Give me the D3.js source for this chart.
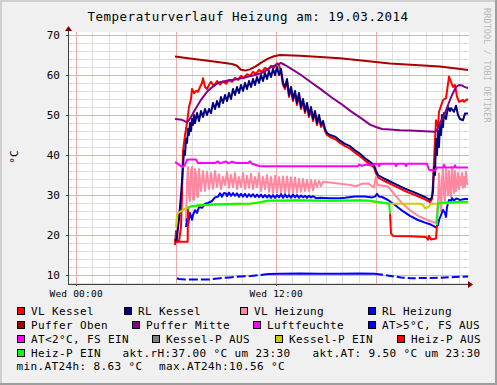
<!DOCTYPE html>
<html>
<head>
<meta charset="utf-8">
<title>Temperaturverlauf Heizung</title>
<script src="https://d3js.org/d3.v7.min.js"></script>
<style>
  body { margin: 0; background: #f0f0f0; }
  svg { display: block; font-family: "DejaVu Sans Mono", monospace; }
</style>
</head>
<body>
<div id="chart"></div>
<script>
// ---- data: [hour of day (Wed), degC] ----
var vlKessel = [[5.96,17.5],[6.02,21],[6.08,18.3],[6.20,18.5],[6.32,22],[6.38,30],[6.44,41],[6.56,45],[6.68,48],[6.80,52],[6.92,54],[6.98,56.5],[7.10,55.5],[7.22,56],[7.34,55.8],[7.46,57],[7.58,58],[7.64,59.2],[7.76,57],[7.88,56.5],[8.00,57.5],[8.12,58.3],[8.30,57.2],[8.48,58.5],[8.66,57.6],[8.84,58.4],[9.02,57.8],[9.20,58.8],[9.38,58.3],[9.56,59.3],[9.74,58.8],[9.92,59.8],[10.10,59.2],[10.28,60.2],[10.46,59.8],[10.64,60.8],[10.82,60.3],[11.00,61.3],[11.18,60.8],[11.36,61.8],[11.54,61.3],[11.72,62.3],[11.90,61.8],[12.08,62.9],[12.20,62.5],[12.32,60.8],[12.44,57.5],[12.56,56.5],[12.68,58.5],[12.80,54.5],[12.92,56.5],[13.04,53.5],[13.16,55.5],[13.28,52.5],[13.40,55],[13.52,51.5],[13.64,53.5],[13.76,50.5],[13.88,52.5],[14.00,49.5],[14.12,51.5],[14.24,48.5],[14.36,50.5],[14.48,47.5],[14.60,49.5],[14.72,47],[14.84,48],[14.96,46],[15.08,45],[15.26,44.5],[15.56,44],[15.86,43],[16.16,42.2],[16.46,41.6],[16.76,40.6],[17.06,39.7],[17.36,38.6],[17.66,37.7],[17.90,36.9],[18.02,35.4],[18.14,34.4],[18.56,33.4],[19.16,32.2],[19.76,31],[20.36,30],[20.96,28.9],[21.26,28.2],[21.38,29],[21.44,33],[21.56,43.75],[21.62,48.7],[21.74,47],[21.80,50.8],[22.04,53.75],[22.22,54.2],[22.40,59.6],[22.52,58.3],[22.64,57],[22.76,57.5],[22.88,54.6],[23.00,53.3],[23.24,53.75],[23.30,53.3],[23.48,53.9],[23.54,53.75]];

var rlKessel = [[5.96,19.0],[6.02,18.5],[6.08,19.5],[6.20,24],[6.32,30],[6.44,37],[6.50,41],[6.56,40],[6.62,44],[6.68,43],[6.74,46.5],[6.80,45],[6.86,48],[6.92,46],[6.98,49],[7.04,47.5],[7.10,50],[7.16,48],[7.28,50.5],[7.40,48.5],[7.52,51],[7.64,49.5],[7.76,51.5],[7.88,50],[8.00,51.5],[8.12,50.5],[8.24,53],[8.36,51.5],[8.48,53.5],[8.60,52],[8.72,54.5],[8.84,53],[8.96,55],[9.08,53.5],[9.20,55.5],[9.32,54],[9.44,56.5],[9.56,55],[9.68,57],[9.80,55.5],[9.92,57.5],[10.04,56],[10.16,58],[10.28,56.5],[10.40,58.5],[10.52,57],[10.64,59],[10.76,57.5],[10.88,59.5],[11.00,58],[11.12,60],[11.24,58.5],[11.36,60.5],[11.48,59],[11.60,61],[11.72,59.5],[11.84,61.5],[11.96,60],[12.08,62],[12.20,60],[12.32,61.5],[12.44,58],[12.56,57],[12.68,59],[12.80,55],[12.92,57],[13.04,54],[13.16,56],[13.28,53],[13.40,55.5],[13.52,52],[13.64,54],[13.76,51],[13.88,53],[14.00,50],[14.12,52],[14.24,49],[14.36,51],[14.48,48],[14.60,50],[14.72,47.5],[14.84,48.5],[14.96,46.5],[15.08,45.5],[15.26,45],[15.56,44.6],[15.86,43.6],[16.16,42.8],[16.46,42.2],[16.76,41.2],[17.06,40.3],[17.36,39.2],[17.66,38.3],[17.90,37.5],[18.02,36],[18.14,35],[18.56,34],[19.16,32.8],[19.76,31.6],[20.36,30.6],[20.96,29.5],[21.26,28.8],[21.38,29.5],[21.44,31],[21.50,37],[21.56,35],[21.62,44],[21.68,40],[21.74,46],[21.80,42],[21.86,48],[21.92,45],[21.98,50],[22.04,47],[22.10,50.5],[22.22,49],[22.34,52],[22.46,51],[22.52,51.7],[22.70,50.8],[22.82,52.3],[22.94,50],[23.06,49],[23.24,48.7],[23.36,50.4],[23.54,50.4]];

var vlHeizung = [[6.62,23.5],[6.68,33],[6.74,37],[6.80,30],[6.86,28.5],[6.92,36],[6.98,37],[7.04,29],[7.10,28.8],[7.16,36.5],[7.22,35],[7.28,30],[7.34,29.5],[7.40,36.5],[7.52,31],[7.64,36],[7.76,31],[7.88,35.8],[8.00,31.5],[8.12,35.5],[8.24,31.5],[8.36,36],[8.48,32],[8.60,35.2],[8.72,31.5],[8.84,34.5],[8.96,32.5],[9.08,35.8],[9.20,31.8],[9.32,35],[9.44,32],[9.56,35.5],[9.68,31.5],[9.80,34.5],[9.92,32],[10.04,35.5],[10.16,31.5],[10.28,34.8],[10.40,31.8],[10.52,35.3],[10.64,31.5],[10.76,34.5],[10.88,32],[11.00,35.5],[11.12,31],[11.24,34.5],[11.36,31.5],[11.48,35],[11.60,30.8],[11.72,34.5],[11.84,30.5],[11.96,34.8],[12.08,30.6],[12.20,34.5],[12.32,30.5],[12.44,34.6],[12.56,30.4],[12.68,34.6],[12.80,30.5],[12.92,34.4],[13.04,30.6],[13.16,34.4],[13.28,30.6],[13.40,34],[13.52,30.8],[13.64,34],[13.76,31],[13.88,33.8],[14.00,31],[14.12,33.8],[14.24,31.2],[14.36,33.6],[14.48,32],[14.60,33.5],[14.72,32.2],[14.84,33.3],[15.26,33.1],[15.86,32.8],[16.46,32.5],[16.82,32.2],[17.18,32.8],[17.54,32.9],[17.78,32.2],[17.90,31.9],[17.96,33.5],[18.02,34.6],[18.08,33],[18.14,32.5],[18.74,32.1],[19.16,30],[19.52,28.2],[20.06,26.2],[20.54,24.8],[20.96,24],[21.26,23.5],[21.62,23],[21.74,28],[21.80,35.4],[21.86,30],[21.92,26],[21.98,34],[22.04,36.5],[22.10,30],[22.16,28.5],[22.22,36.5],[22.28,33],[22.34,30],[22.40,36],[22.46,31],[22.52,29.5],[22.58,37],[22.64,33.5],[22.70,30.5],[22.76,36],[22.82,31],[22.88,33],[22.94,35.5],[23.00,31.5],[23.06,34.5],[23.12,32.5],[23.18,35.5],[23.24,31.8],[23.30,34.5],[23.36,32],[23.42,35.8],[23.48,33],[23.54,32.5]];

var rlHeizung = [[6.62,22],[6.68,24],[6.74,22.5],[6.86,25.5],[6.98,23.8],[7.04,25],[7.16,26.2],[7.28,25.5],[7.40,27],[7.58,26.8],[7.76,27.8],[7.94,28],[8.18,28.5],[8.36,29.4],[8.54,29.6],[8.66,30.4],[8.78,29.6],[8.90,30.5],[9.02,30.4],[9.08,29.7],[9.20,30.6],[9.32,29.8],[9.44,30.5],[9.56,29.8],[9.68,30.4],[9.80,29.6],[9.92,30.3],[10.04,29.6],[10.16,30.3],[10.28,29.5],[10.40,30.2],[10.52,29.6],[10.64,30.2],[10.76,29.5],[10.88,30.1],[11.00,29.5],[11.12,30.1],[11.24,29.4],[11.36,30],[11.48,29.4],[11.60,30],[11.72,29.3],[11.84,30],[11.96,29.3],[12.08,30],[12.20,29.4],[12.32,30.2],[12.44,29.3],[12.56,30.1],[12.68,29.4],[12.80,30],[12.92,29.3],[13.04,30.1],[13.16,29.4],[13.28,30],[13.40,29.3],[13.52,29.9],[13.64,29.4],[13.76,29.8],[13.88,29.3],[14.00,29.8],[14.12,29.4],[14.24,29.7],[14.42,29.2],[14.66,29.3],[15.26,29.2],[15.86,29.2],[16.16,29.3],[16.76,29.6],[17.36,29.6],[17.78,29.4],[17.96,29.6],[18.08,30.3],[18.20,29.6],[18.38,29.5],[18.74,28.75],[19.16,27.5],[19.52,26.3],[20.06,24.8],[20.54,23.75],[20.96,23.1],[21.26,22.7],[21.62,21.9],[21.74,22.5],[21.80,23.75],[21.92,25],[22.04,26.25],[22.16,25.5],[22.22,24.5],[22.28,27],[22.40,28.75],[22.52,28.5],[22.58,29.2],[22.70,28.6],[22.82,29.1],[22.94,29.0],[23.06,28.7],[23.18,28.9],[23.36,29.0],[23.54,29.0]];

var pufferOben = [[5.96,64.6],[6.86,64.1],[8.06,63.5],[8.96,63.0],[9.38,62.75],[9.68,62.3],[9.92,61.3],[10.16,61.1],[10.46,61.4],[10.82,62.2],[11.18,63.2],[11.54,64.1],[11.90,64.7],[12.26,65.0],[13.46,64.8],[15.86,64.2],[18.86,62.9],[21.86,62.1],[23.54,61.25]];

var pufferMitte = [[5.96,49],[6.38,48.8],[6.62,48.3],[6.74,48.4],[6.92,49.5],[7.16,51.3],[7.52,53.8],[7.88,55.8],[8.30,57.4],[8.66,58.2],[9.14,58.6],[9.56,58.9],[10.16,59.4],[10.76,60.0],[11.24,60.6],[11.72,62],[12.08,62.6],[12.32,63],[12.56,62.5],[12.92,61.6],[13.52,60],[14.12,58.2],[14.72,56.4],[15.32,54.5],[15.92,52.8],[16.52,50.9],[17.12,49.2],[17.66,47.6],[18.02,47.0],[18.38,46.5],[18.86,46.4],[19.46,46.2],[20.06,46.1],[20.66,46.0],[21.26,45.9],[21.56,45.8],[21.74,46.7],[21.92,48.5],[22.16,50.5],[22.34,52.5],[22.58,55],[22.82,57],[23.00,57.5],[23.18,57.4],[23.30,57.1],[23.42,56.9],[23.54,56.7]];

var luftfeuchte = [[5.96,38.2],[6.14,37.8],[6.32,37.2],[6.44,37.0],[6.56,37.6],[6.68,38.8],[6.86,38.9],[7.22,38.9],[7.34,38.0],[8.36,38.0],[8.54,38.4],[8.66,37.9],[9.02,38.4],[9.14,37.9],[9.38,38.3],[9.62,38.0],[10.34,38.0],[10.46,38.4],[10.58,37.8],[11.06,37.2],[16.94,37.2],[17.00,37.6],[17.18,37.3],[17.42,37.6],[17.72,37.4],[17.96,37.8],[18.14,37.8],[18.20,37.2],[18.26,37.8],[19.16,37.8],[19.22,37.2],[19.28,37.8],[19.76,37.8],[19.82,37.2],[19.88,37.8],[21.08,37.8],[21.20,36.3],[21.56,36.1],[21.68,36.9],[22.04,36.9],[22.10,37.5],[22.16,36.9],[22.70,36.9],[22.76,37.4],[22.82,36.9],[23.54,36.9]];

var aussenTemp = [[6.08,9.2],[6.20,9.0],[6.56,8.9],[7.16,8.9],[8.06,8.9],[8.66,9.2],[9.26,9.4],[9.86,9.6],[10.52,9.75],[11.06,10.0],[11.54,10.25],[12.26,10.3],[13.46,10.4],[14.66,10.3],[15.86,10.3],[17.06,10.35],[17.96,10.3],[18.56,10.0],[19.16,9.6],[19.52,9.4],[20.12,9.2],[20.96,9.25],[21.86,9.3],[22.76,9.5],[23.54,9.6]];

var kesselPEin = [[6.02,22],[6.08,25],[6.14,25.5],[6.44,26.2],[6.74,27.0],[7.46,27.4],[8.54,27.6],[9.56,27.7],[10.52,27.8],[11.06,28.1],[11.54,28.5],[12.26,28.5],[13.46,28.6],[14.66,28.5],[15.86,28.5],[17.06,28.6],[17.54,28.5],[18.26,28.1],[18.80,27.8],[20.66,27.8],[20.84,27.5],[20.96,26.7],[21.14,26.9],[21.32,27.8],[21.68,27.8],[21.86,27.9],[23.54,28.1]];

var heizPAus = [
  [[6.02,18.3],[6.14,18.3],[6.56,18.3],[6.72,18.3],[6.74,26.5]],
  [[18.86,25.4],[18.92,20.4],[19.04,19.75],[20.06,19.7],[21.02,19.5],[21.14,18.8],[21.20,19.8],[21.32,18.9],[21.62,19.1],[21.68,22.5]]
];
var heizPEin = [
  [[6.74,26.5],[6.86,27.1],[7.46,27.5],[8.54,27.7],[9.56,27.8],[10.52,27.9],[11.06,28.2],[11.54,28.6],[12.26,28.6],[13.46,28.7],[14.66,28.6],[15.86,28.6],[17.06,28.7],[17.54,28.6],[18.26,28.2],[18.80,27.9],[18.86,25.4]],
  [[21.68,22.5],[21.74,27.9],[21.86,28.0],[22.46,28.2],[23.06,28.3],[23.54,28.3]]
];

var legendLabels = ["VL Kessel","RL Kessel","VL Heizung","RL Heizung","Puffer Oben","Puffer Mitte","Luftfeuchte","AT>5°C, FS AUS","AT<2°C, FS EIN","Kessel-P AUS","Kessel-P EIN","Heiz-P AUS","Heiz-P EIN"];
var legendColors = ["#ff0000","#000080","#ff88a0","#0000ff","#aa0000","#880088","#ff00ff","#0000ff","#ff00ff","#808080","#cccc00","#ff0000","#00ff00"];
var commentTexts = ["akt.rH:37.00 °C um 23:30","akt.AT: 9.50 °C um 23:30","min.AT24h: 8.63 °C","max.AT24h:10.56 °C"];
var yTicks = [10,20,30,40,50,60,70];
var xLabelTicks = [0,12];
var xLabelText = ["Wed 00:00","Wed 12:00"];

// ---- layout ----
var W = 497, H = 385;
var plot = {left: 68, right: 469, top: 32, bottom: 284};

var svg = d3.select("#chart").append("svg")
  .attr("width", W).attr("height", H);

// canvas + 3d border
svg.append("rect").attr("width", W).attr("height", H).attr("fill", "#f0f0f0");
svg.append("rect").attr("x", 0).attr("y", 0).attr("width", W).attr("height", 2).attr("fill", "#cfcfcf");
svg.append("rect").attr("x", 0).attr("y", 0).attr("width", 2).attr("height", H).attr("fill", "#cfcfcf");
svg.append("rect").attr("x", W-2).attr("y", 0).attr("width", 2).attr("height", H).attr("fill", "#9e9e9e");
svg.append("rect").attr("x", 0).attr("y", H-2).attr("width", W).attr("height", 2).attr("fill", "#9e9e9e");

var x = d3.scaleLinear().domain([-0.46, 23.6]).range([plot.left, plot.right]);
var y = d3.scaleLinear().domain([7.75, 70.75]).range([plot.bottom, plot.top]);

svg.append("rect")
  .attr("x", plot.left).attr("y", plot.top)
  .attr("width", plot.right - plot.left).attr("height", plot.bottom - plot.top)
  .attr("fill", "#ffffff");

// grid
var grid = svg.append("g").attr("shape-rendering", "crispEdges");
var minorY = d3.range(8, 71, 2).filter(function(v){ return v % 10 != 0; });
var minorX = d3.range(0, 24, 1).filter(function(v){ return v % 6 != 0; });
var majorX = d3.range(0, 24, 6);

grid.selectAll(".hmin").data(minorY).enter().append("line")
  .attr("x1", plot.left).attr("x2", plot.right)
  .attr("y1", function(d){ return Math.round(y(d)) + 0.5; })
  .attr("y2", function(d){ return Math.round(y(d)) + 0.5; })
  .attr("stroke", "#dddddd");
grid.selectAll(".vmin").data(minorX).enter().append("line")
  .attr("y1", plot.top).attr("y2", plot.bottom)
  .attr("x1", function(d){ return Math.round(x(d)) + 0.5; })
  .attr("x2", function(d){ return Math.round(x(d)) + 0.5; })
  .attr("stroke", "#dddddd");
grid.selectAll(".hmaj").data(yTicks).enter().append("line")
  .attr("x1", plot.left).attr("x2", plot.right)
  .attr("y1", function(d){ return Math.round(y(d)) + 0.5; })
  .attr("y2", function(d){ return Math.round(y(d)) + 0.5; })
  .attr("stroke", "#eeaaaa");
grid.selectAll(".vmaj").data(majorX).enter().append("line")
  .attr("y1", plot.top).attr("y2", plot.bottom)
  .attr("x1", function(d){ return Math.round(x(d)) + 0.5; })
  .attr("x2", function(d){ return Math.round(x(d)) + 0.5; })
  .attr("stroke", "#eeaaaa");

// lines
var line = d3.line()
  .x(function(d){ return x(d[0]); })
  .y(function(d){ return y(d[1]); });

var lines = svg.append("g")
  .attr("fill", "none")
  .attr("stroke-width", 2)
  .attr("stroke-linejoin", "round");

function draw(data, color, dash) {
  var p = lines.append("path").attr("d", line(data)).attr("stroke", color);
  if (dash) p.attr("stroke-dasharray", dash);
}

draw(vlKessel, legendColors[0]);
draw(rlKessel, legendColors[1]);
draw(vlHeizung, legendColors[2]);
draw(rlHeizung, legendColors[3]);
draw(pufferOben, legendColors[4]);
draw(pufferMitte, legendColors[5]);
draw(luftfeuchte, legendColors[6]);
draw(aussenTemp.filter(function(d){ return d[0] <= 11.6; }), legendColors[7], "9,3");
draw(aussenTemp.filter(function(d){ return d[0] >= 11.5 && d[0] <= 18; }), legendColors[7]);
draw(aussenTemp.filter(function(d){ return d[0] >= 17.9; }), legendColors[7], "8,3");
draw(kesselPEin, legendColors[10]);
heizPAus.forEach(function(seg){ draw(seg, legendColors[11]); });
heizPEin.forEach(function(seg){ draw(seg, legendColors[12]); });

// axes
var axisColor = "#404040";
var yAxis = svg.append("g")
  .attr("transform", "translate(" + plot.left + ",0)")
  .call(d3.axisLeft(y).tickValues(yTicks).tickSize(2).tickSizeOuter(0).tickPadding(6));
var xAxis = svg.append("g")
  .attr("transform", "translate(0," + plot.bottom + ")")
  .call(d3.axisBottom(x).tickValues(xLabelTicks).tickSize(2).tickSizeOuter(0).tickPadding(4)
        .tickFormat(function(d, i){ return xLabelText[i]; }));

[yAxis, xAxis].forEach(function(a){
  a.attr("shape-rendering", "crispEdges");
  a.select(".domain").attr("stroke", axisColor);
  a.selectAll(".tick line").attr("stroke", axisColor);
  a.selectAll(".tick text").attr("fill", "#000").attr("font-family", "DejaVu Sans Mono");
});
yAxis.selectAll(".tick text").attr("font-size", "11px").attr("dy", "0.36em");
xAxis.selectAll(".tick text").attr("font-size", "9.5px").attr("letter-spacing", "0.2px");
yAxis.select(".domain").attr("d", "M0.5," + plot.bottom + "V" + (plot.top - 2));
xAxis.select(".domain").attr("d", "M" + plot.left + ",0.5H" + (plot.right + 1));

// arrows
svg.append("path")
  .attr("d", "M" + (plot.right - 1) + "," + (plot.bottom - 3) + "L" + (plot.right + 4) + "," + (plot.bottom + 0.5) + "L" + (plot.right - 1) + "," + (plot.bottom + 4) + "Z")
  .attr("fill", "#7f0000");
svg.append("path")
  .attr("d", "M" + (plot.left - 3) + "," + (plot.top - 1) + "L" + (plot.left + 0.5) + "," + (plot.top - 6) + "L" + (plot.left + 4) + "," + (plot.top - 1) + "Z")
  .attr("fill", "#7f0000");

// title
svg.append("text")
  .attr("x", 248).attr("y", 20.5)
  .attr("text-anchor", "middle")
  .attr("font-size", "12.5px")
  .attr("letter-spacing", "0.5px")
  .text("Temperaturverlauf Heizung am: 19.03.2014");

// unit label
svg.append("text")
  .attr("transform", "translate(18,157) rotate(-90)")
  .attr("text-anchor", "middle")
  .attr("font-size", "11px")
  .text("°C");

// watermark
svg.append("text")
  .attr("transform", "translate(484,8) rotate(90)")
  .attr("font-size", "8.5px")
  .attr("letter-spacing", "0.1px")
  .attr("fill", "#b8b8b8")
  .text("RRDTOOL / TOBI OETIKER");

// legend
var legendPos = [[17,315],[124,315],[240,315],[368,315],
                 [17,328.7],[132,328.7],[253,328.7],[368,328.7],
                 [17,342.6],[152,342.6],[275,342.6],[397,342.6],
                 [17,356.5]];
var commentPos = [[122.5,356.5],[312.5,356.5],[16.5,370.4],[159,370.4]];

var legend = svg.append("g").attr("font-size", "11px").attr("letter-spacing", "0.38px");
legendLabels.forEach(function(lbl, i){
  var p = legendPos[i];
  legend.append("rect")
    .attr("x", p[0] + 0.5).attr("y", p[1] - 7.5)
    .attr("width", 7).attr("height", 7)
    .attr("fill", legendColors[i])
    .attr("stroke", "#000").attr("stroke-width", 1)
    .attr("shape-rendering", "crispEdges");
  legend.append("text").attr("x", p[0] + 14).attr("y", p[1]).text(lbl);
});
commentTexts.forEach(function(t, i){
  legend.append("text").attr("x", commentPos[i][0]).attr("y", commentPos[i][1])
    .attr("xml:space", "preserve").style("white-space", "pre").text(t);
});
</script>
</body>
</html>
